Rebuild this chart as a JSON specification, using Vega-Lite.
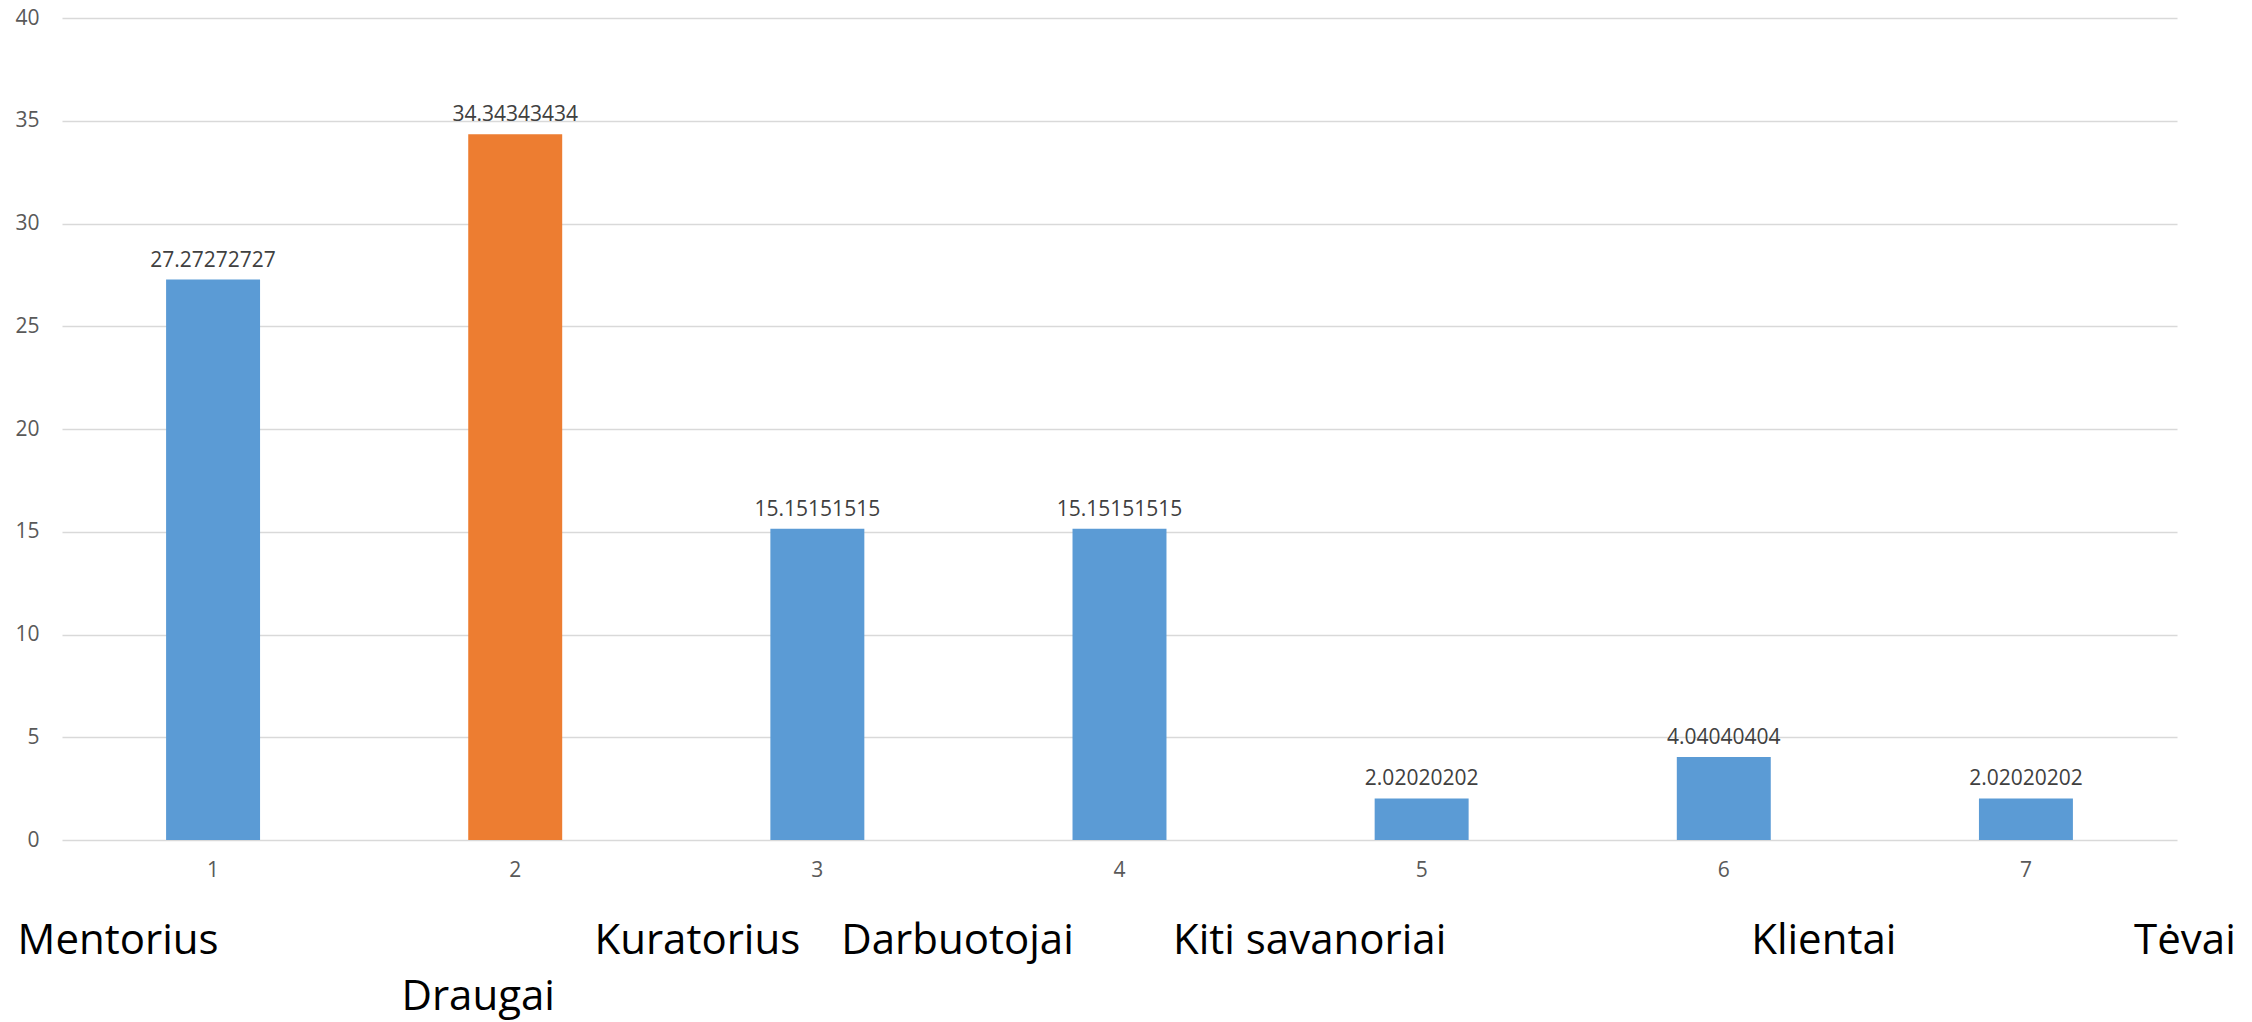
{
  "$schema": "https://vega.github.io/schema/vega-lite/v6.json",
  "width": 2115,
  "height": 822,
  "autosize": {"type": "none"},
  "padding": {"left": 62, "top": 18, "right": 75, "bottom": 182},
  "background": "white",
  "config": {"view": {"stroke": null}, "font": "Open Sans"},
  "data": {
    "values": [
      {"n": 1, "name": "Mentorius", "value": 27.27272727},
      {"n": 2, "name": "Draugai", "value": 34.34343434},
      {"n": 3, "name": "Kuratorius", "value": 15.15151515},
      {"n": 4, "name": "Darbuotojai", "value": 15.15151515},
      {"n": 5, "name": "Kiti savanoriai", "value": 2.02020202},
      {"n": 6, "name": "Klientai", "value": 4.04040404},
      {"n": 7, "name": "Tėvai", "value": 2.02020202}
    ]
  },
  "layer": [
    {
      "layer": [
        {
          "mark": {"type": "bar", "width": {"band": 0.311}},
          "encoding": {
            "x": {
              "field": "n",
              "type": "ordinal",
              "scale": {"paddingInner": 0, "paddingOuter": 0},
              "axis": {
                "orient": "bottom",
                "title": null,
                "labelAngle": 0,
                "labelFontSize": 21,
                "labelColor": "#595959",
                "labelPadding": 19,
                "ticks": false,
                "domain": false,
                "grid": false
              }
            },
            "y": {
              "field": "value",
              "type": "quantitative",
              "scale": {"domain": [0, 40]},
              "axis": {
                "title": null,
                "values": [0, 5, 10, 15, 20, 25, 30, 35, 40],
                "grid": true,
                "gridColor": "#D9D9D9",
                "gridWidth": 1.5,
                "domain": false,
                "ticks": false,
                "labelFontSize": 21,
                "labelColor": "#595959",
                "labelPadding": 23
              }
            },
            "color": {
              "condition": {"test": "datum.n == 2", "value": "#ED7D31"},
              "value": "#5B9BD5"
            }
          }
        },
        {
          "mark": {"type": "text", "dy": -13, "baseline": "alphabetic", "fontSize": 21, "color": "#404040"},
          "encoding": {
            "x": {"field": "n", "type": "ordinal"},
            "y": {"field": "value", "type": "quantitative"},
            "text": {"field": "value", "type": "nominal"}
          }
        }
      ]
    },
    {
      "mark": {"type": "bar", "opacity": 0},
      "encoding": {
        "x": {
          "field": "name",
          "type": "nominal",
          "sort": {"field": "n", "op": "min"},
          "scale": {"paddingInner": 0, "paddingOuter": 0},
          "axis": {
            "orient": "bottom",
            "title": null,
            "labelAngle": 0,
            "labelFontSize": 42,
            "labelColor": "#000000",
            "labelLimit": 0,
            "labelOverlap": false,
            "labelLineHeight": 56,
            "labelExpr": "datum.value == 'Draugai' ? ['', datum.value] : datum.value",
            "ticks": false,
            "domain": false,
            "grid": false,
            "labelPadding": 80,
            "labelOffset": {
              "condition": [
                {"test": "datum.value == 'Mentorius'", "value": -95},
                {"test": "datum.value == 'Draugai'", "value": -37},
                {"test": "datum.value == 'Kuratorius'", "value": -120},
                {"test": "datum.value == 'Darbuotojai'", "value": -162},
                {"test": "datum.value == 'Kiti savanoriai'", "value": -112},
                {"test": "datum.value == 'Klientai'", "value": 100}
              ],
              "value": 159
            }
          }
        },
        "y": {"field": "value", "type": "quantitative"}
      }
    }
  ],
  "resolve": {"scale": {"x": "independent"}}
}
